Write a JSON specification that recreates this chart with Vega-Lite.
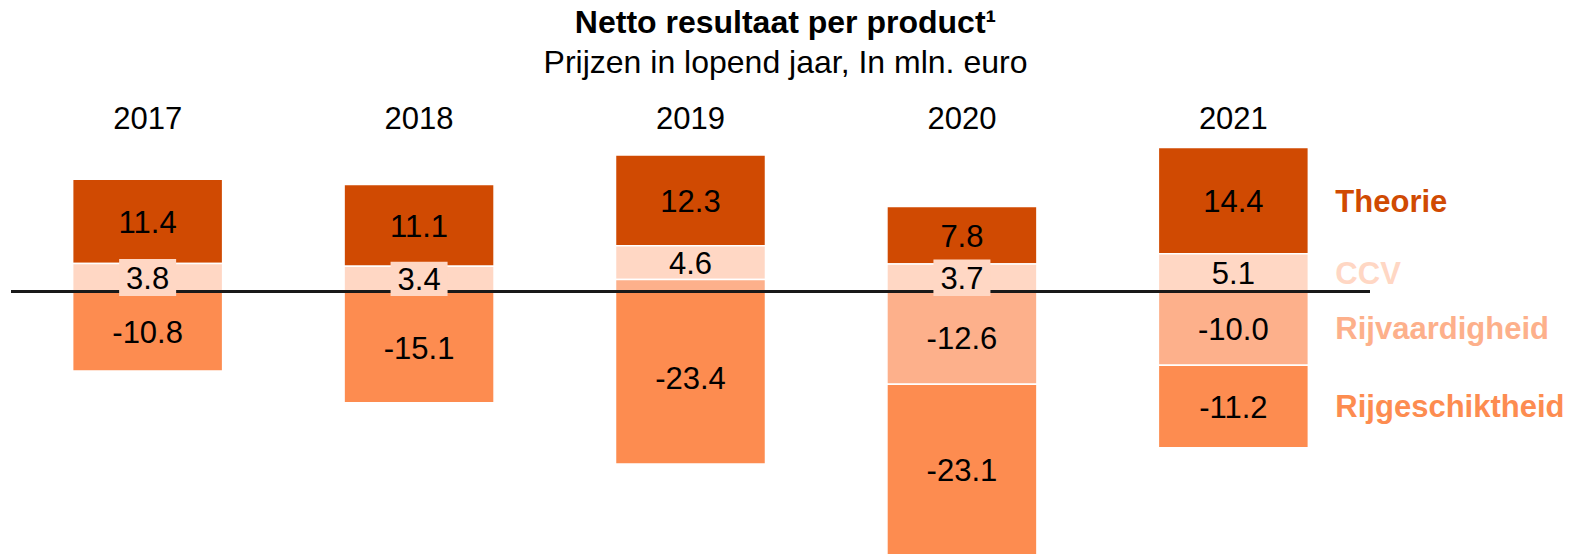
{
  "$schema": "https://vega.github.io/schema/vega-lite/v6.json",
  "autosize": "none",
  "width": 1359,
  "height": 409,
  "padding": {"left": 11, "top": 145, "right": 203, "bottom": 0},
  "background": "white",
  "config": {
    "view": {"stroke": null},
    "font": "Liberation Sans",
    "locale": {"number": {"decimal": ".", "thousands": ",", "grouping": [3], "currency": ["", ""], "minus": "-"}}
  },
  "title": {
    "text": "Netto resultaat per product¹",
    "subtitle": "Prijzen in lopend jaar, In mln. euro",
    "font": "Liberation Sans",
    "fontSize": 32,
    "fontWeight": "bold",
    "color": "black",
    "subtitleFont": "Liberation Sans",
    "subtitleFontSize": 32,
    "subtitleColor": "black",
    "subtitlePadding": 8,
    "anchor": "middle",
    "offset": 23,
    "dx": 95
  },
  "data": {
    "values": [
      {"year": "2017", "product": "Theorie", "value": 11.4},
      {"year": "2017", "product": "CCV", "value": 3.8},
      {"year": "2017", "product": "Rijgeschiktheid", "value": -10.8},
      {"year": "2018", "product": "Theorie", "value": 11.1},
      {"year": "2018", "product": "CCV", "value": 3.4},
      {"year": "2018", "product": "Rijgeschiktheid", "value": -15.1},
      {"year": "2019", "product": "Theorie", "value": 12.3},
      {"year": "2019", "product": "CCV", "value": 4.6},
      {"year": "2019", "product": "Rijvaardigheid", "value": 1.6},
      {"year": "2019", "product": "Rijgeschiktheid", "value": -23.4},
      {"year": "2020", "product": "Theorie", "value": 7.8},
      {"year": "2020", "product": "CCV", "value": 3.7},
      {"year": "2020", "product": "Rijvaardigheid", "value": -12.6},
      {"year": "2020", "product": "Rijgeschiktheid", "value": -23.1},
      {"year": "2021", "product": "Theorie", "value": 14.4},
      {"year": "2021", "product": "CCV", "value": 5.1},
      {"year": "2021", "product": "Rijvaardigheid", "value": -10.0},
      {"year": "2021", "product": "Rijgeschiktheid", "value": -11.2}
    ]
  },
  "transform": [
    {"calculate": "indexof(['Rijvaardigheid','CCV','Theorie','Rijgeschiktheid'], datum.product)", "as": "ord"},
    {"stack": "value", "groupby": ["year"], "sort": [{"field": "ord", "order": "ascending"}], "as": ["s0", "s1"]},
    {"calculate": "(datum.s0 + datum.s1) / 2", "as": "mid"}
  ],
  "encoding": {
    "x": {
      "field": "year",
      "type": "nominal",
      "scale": {"paddingInner": 0.4474, "paddingOuter": 0.2271},
      "axis": {
        "orient": "top",
        "title": null,
        "domain": false,
        "ticks": false,
        "labelAngle": 0,
        "labelFontSize": 31,
        "labelColor": "black",
        "labelFont": "Liberation Sans",
        "labelPadding": 10
      }
    }
  },
  "layer": [
    {
      "mark": {"type": "bar", "stroke": "white", "strokeWidth": 1.5},
      "encoding": {
        "y": {"field": "s0", "type": "quantitative", "scale": {"domain": [-35.6, 19.85], "nice": false, "zero": false}, "axis": null},
        "y2": {"field": "s1"},
        "color": {
          "field": "product",
          "type": "nominal",
          "scale": {"domain": ["Theorie", "CCV", "Rijvaardigheid", "Rijgeschiktheid"], "range": ["#D04A02", "#FFD7C4", "#FDB08B", "#FD8C50"]},
          "legend": null
        }
      }
    },
    {
      "mark": {"type": "rule", "color": "#1a1a1a", "strokeWidth": 1.8},
      "encoding": {"y": {"datum": 0, "type": "quantitative"}, "x": {"value": 0}, "x2": {"value": 1359}}
    },
    {
      "transform": [{"filter": "datum.product == 'CCV' && datum.value < 4"}],
      "mark": {"type": "bar", "width": 48, "fill": "#FFD7C4", "stroke": "#FFD7C4", "strokeWidth": 9},
      "encoding": {
        "y": {"field": "s0", "type": "quantitative"},
        "y2": {"field": "s1"}
      }
    },
    {
      "transform": [{"filter": "abs(datum.value) >= 2"}],
      "mark": {"type": "text", "fontSize": 31, "color": "black", "font": "Liberation Sans", "baseline": "middle", "dy": 2.5},
      "encoding": {
        "y": {"field": "mid", "type": "quantitative"},
        "text": {"field": "value", "type": "quantitative", "format": ".1f"}
      }
    },
    {
      "transform": [{"filter": "datum.year == '2021'"}],
      "mark": {"type": "text", "fontSize": 31, "fontWeight": "bold", "align": "left", "baseline": "middle", "dx": 102, "dy": 2, "font": "Liberation Sans"},
      "encoding": {
        "y": {"field": "mid", "type": "quantitative"},
        "text": {"field": "product"},
        "color": {"field": "product", "type": "nominal", "legend": null}
      }
    }
  ]
}
